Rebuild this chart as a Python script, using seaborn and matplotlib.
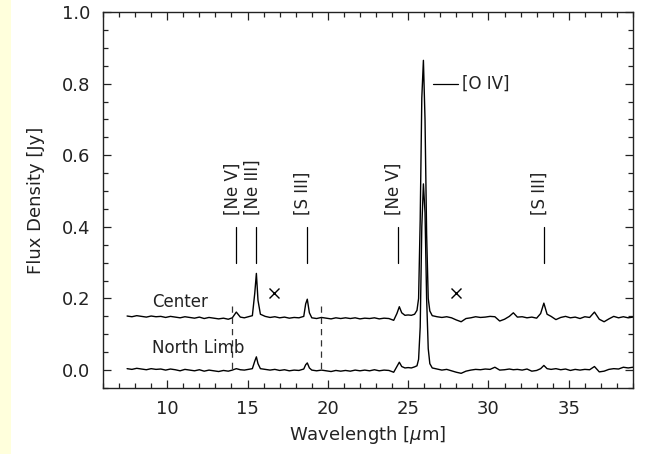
import numpy as np
import pandas as pd
import matplotlib
matplotlib.use("Agg")
import matplotlib.pyplot as plt
import seaborn as sns
from matplotlib.ticker import MultipleLocator, FormatStrFormatter

# ---------------- data ----------------
wavelength = [7.5, 7.8, 8.1, 8.4, 8.7, 9.0, 9.3, 9.6, 9.9, 10.2, 10.5, 10.8, 11.1, 11.4, 11.7,
              12.0, 12.3, 12.6, 12.9, 13.2, 13.5, 13.8, 14.05, 14.3, 14.55, 14.8, 15.05, 15.3,
              15.45, 15.55, 15.65, 15.8, 16.1, 16.4, 16.7, 17.0, 17.3, 17.6, 17.9, 18.2, 18.5,
              18.62, 18.72, 18.85, 19.0, 19.3, 19.6, 19.9, 20.2, 20.5, 20.8, 21.1, 21.4, 21.7,
              22.0, 22.3, 22.6, 22.9, 23.2, 23.5, 23.8, 24.1, 24.3, 24.45, 24.6, 24.8, 25.0,
              25.2, 25.4, 25.55, 25.65, 25.75, 25.85, 25.95, 26.05, 26.15, 26.25, 26.35, 26.5,
              26.8, 27.1, 27.4, 27.7, 28.0, 28.3, 28.6, 28.9, 29.2, 29.5, 29.8, 30.1, 30.4,
              30.7, 31.0, 31.3, 31.55, 31.8, 32.1, 32.4, 32.7, 33.0, 33.25, 33.45, 33.65, 33.9,
              34.2, 34.5, 34.8, 35.1, 35.4, 35.7, 36.0, 36.3, 36.6, 36.9, 37.2, 37.5, 37.8,
              38.1, 38.4, 38.7, 39.0]

center_flux = [0.151, 0.149, 0.152, 0.150, 0.148, 0.151, 0.149, 0.150, 0.147, 0.150, 0.148,
               0.146, 0.149, 0.147, 0.145, 0.148, 0.144, 0.147, 0.145, 0.143, 0.145, 0.142,
               0.146, 0.162, 0.148, 0.146, 0.149, 0.152, 0.215, 0.270, 0.195, 0.156, 0.150,
               0.147, 0.149, 0.146, 0.148, 0.145, 0.147, 0.146, 0.150, 0.185, 0.198, 0.160,
               0.146, 0.144, 0.147, 0.145, 0.143, 0.146, 0.144, 0.146, 0.144, 0.146, 0.143,
               0.145, 0.144, 0.146, 0.143, 0.145, 0.144, 0.139, 0.158, 0.177, 0.160, 0.153,
               0.154, 0.153, 0.156, 0.167, 0.200, 0.420, 0.760, 0.865, 0.700, 0.380, 0.200,
               0.165, 0.152, 0.149, 0.147, 0.149, 0.146, 0.140, 0.135, 0.144, 0.146, 0.149,
               0.147, 0.148, 0.150, 0.149, 0.137, 0.142, 0.150, 0.160, 0.148, 0.149, 0.146,
               0.148, 0.145, 0.158, 0.187, 0.156, 0.150, 0.141, 0.147, 0.150, 0.146, 0.148,
               0.144, 0.149, 0.147, 0.162, 0.142, 0.135, 0.143, 0.150, 0.146, 0.149, 0.146,
               0.148]

north_limb_flux = [0.004, 0.002, 0.005, 0.003, 0.001, 0.004, 0.002, 0.003, 0.000, 0.003, 0.001,
                   -0.002, 0.002, 0.000, -0.002, 0.001, -0.003, 0.000, -0.002, -0.004, -0.001,
                   -0.003, 0.000, 0.004, 0.001, 0.000, 0.002, 0.004, 0.025, 0.037, 0.018, 0.004,
                   0.002, 0.000, 0.002, -0.001, 0.001, -0.002, 0.000, -0.001, 0.003, 0.015,
                   0.020, 0.006, 0.000, -0.002, 0.000, -0.002, -0.004, -0.001, -0.003, -0.001,
                   -0.003, 0.000, -0.002, 0.000, -0.002, 0.001, -0.002, 0.000, -0.001, -0.006,
                   0.010, 0.022, 0.010, 0.006, 0.007, 0.006, 0.009, 0.012, 0.030, 0.120, 0.400,
                   0.520, 0.440, 0.200, 0.060, 0.018, 0.006, 0.003, 0.000, 0.002, -0.002, -0.006,
                   -0.009, -0.003, 0.000, 0.002, 0.001, 0.003, 0.002, 0.008, 0.000, 0.001, 0.003,
                   0.001, 0.002, 0.000, 0.003, -0.003, -0.001, 0.004, 0.013, 0.004, 0.002, 0.004,
                   0.001, 0.003, -0.001, 0.002, 0.000, 0.002, 0.001, 0.010, -0.005, -0.003, 0.002,
                   0.004, 0.003, 0.008, 0.006, 0.008]

series_names = ["Center", "North Limb"]
line_labels = ["[Ne V]", "[Ne III]", "[S III]", "[Ne V]", "[S III]"]
line_wavelengths = [14.3, 15.55, 18.7, 24.35, 33.45]
cross_wavelengths = [16.65, 27.98]
cross_flux = [0.215, 0.215]
dashed_wavelengths = [14.03, 19.57]
oiv_label = "[O IV]"

x_ticks = [10, 15, 20, 25, 30, 35]
y_ticks = [0.0, 0.2, 0.4, 0.6, 0.8, 1.0]

assert len(wavelength) == len(center_flux) == len(north_limb_flux)

df = pd.concat([
    pd.DataFrame({"Wavelength": wavelength, "Flux": center_flux, "Series": series_names[0]}),
    pd.DataFrame({"Wavelength": wavelength, "Flux": north_limb_flux, "Series": series_names[1]}),
], ignore_index=True)

# ---------------- style ----------------
sns.set_style("ticks")
plt.rcParams["font.family"] = ["DejaVu Sans"]
plt.rcParams["mathtext.fontset"] = "dejavusans"
TXT = "#222222"

fig = plt.figure(figsize=(6.45, 4.54), dpi=100)
fig.patch.set_facecolor("white")
# yellow strip at the left edge
fig.patches.append(matplotlib.patches.Rectangle((0, 0), 11 / 645, 1, transform=fig.transFigure,
                                                facecolor="#ffffdc", edgecolor="none", zorder=0))

ax = fig.add_axes([103 / 645, 1 - 388 / 454, 530 / 645, 376 / 454])

sns.lineplot(data=df, x="Wavelength", y="Flux", hue="Series", units="Series",
             estimator=None, sort=False, palette=["black", "black"], linewidth=1.0,
             legend=False, ax=ax)

ax.set_xlim(6, 39)
ax.set_ylim(-0.05, 1.0)
ax.set_xticks(x_ticks)
ax.set_yticks(y_ticks)
ax.xaxis.set_minor_locator(MultipleLocator(1))
ax.yaxis.set_minor_locator(MultipleLocator(0.05))
ax.yaxis.set_major_formatter(FormatStrFormatter("%.1f"))
ax.tick_params(which="both", direction="in", top=True, right=True, colors="#222222",
               labelcolor=TXT, labelsize=13, width=0.9)
ax.tick_params(which="major", length=6, pad=9)
ax.tick_params(which="minor", length=3.5)
for s in ax.spines.values():
    s.set_color("#222222")
    s.set_linewidth(1.0)

ax.set_xlabel("Wavelength [$\\mu$m]", fontsize=13, color=TXT, labelpad=4)
ax.set_ylabel("Flux Density [Jy]", fontsize=13, color=TXT, labelpad=12)

# spectrum labels
ax.text(9.05, 0.19, series_names[0], fontsize=12, color=TXT, ha="left", va="center")
ax.text(9.05, 0.061, series_names[1], fontsize=12, color=TXT, ha="left", va="center")

# line identifications
for lab, lw in zip(line_labels, line_wavelengths):
    ax.plot([lw, lw], [0.30, 0.40], color="black", linewidth=0.9)
    ax.text(lw - 0.25, 0.432, lab, rotation=90, fontsize=12, color=TXT,
            ha="center", va="bottom")

# [O IV]
ax.plot([26.55, 28.1], [0.80, 0.80], color="black", linewidth=0.9)
ax.text(28.35, 0.80, oiv_label, fontsize=12, color=TXT, ha="left", va="center")

# crosses
ax.plot(cross_wavelengths, cross_flux, linestyle="none", marker="x", markersize=7,
        markeredgewidth=1.0, color="black")

# dashed module boundaries
for dw in dashed_wavelengths:
    ax.plot([dw, dw], [0.18, -0.005], color="#333333", linewidth=0.9, linestyle=(0, (5, 4)))

fig.savefig("out.png", dpi=100)
